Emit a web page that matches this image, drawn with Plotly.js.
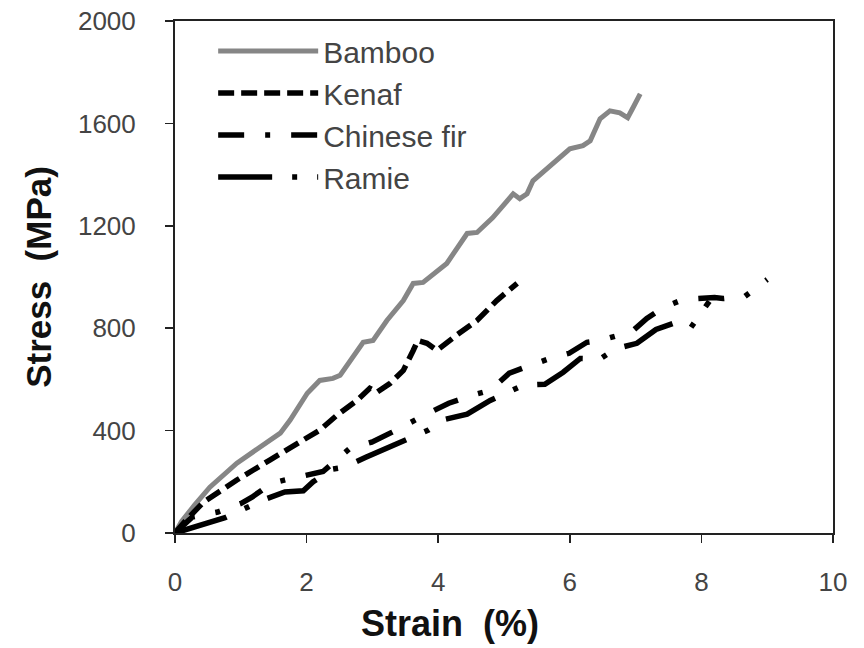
<!DOCTYPE html>
<html>
<head>
<meta charset="utf-8">
<script src="https://cdn.plot.ly/plotly-3.0.1.min.js"></script>
<style>html,body{margin:0;padding:0;background:#fff;}#chart{width:864px;height:648px;}</style>
</head>
<body>
<div id="chart"></div>
<script>
// ---- data ----
const seriesNames = ["Bamboo", "Kenaf", "Chinese fir", "Ramie"];

const bambooStrain = [0, 0.1, 0.3, 0.53, 0.94, 1.4, 1.6, 1.75, 2.01, 2.2, 2.4, 2.51, 2.77, 2.86, 3.01, 3.22, 3.47, 3.62, 3.77, 4.13, 4.44, 4.59, 4.83, 5.09, 5.14, 5.24, 5.35, 5.44, 5.74, 6.0, 6.2, 6.31, 6.46, 6.61, 6.76, 6.88, 6.96, 7.07];
const bambooStress = [0, 45, 110, 179, 273, 351, 390, 441, 546, 596, 604, 616, 713, 745, 752, 830, 908, 975, 979, 1053, 1170, 1174, 1232, 1310, 1325, 1306, 1325, 1376, 1442, 1501, 1513, 1532, 1618, 1649, 1641, 1622, 1661, 1715];

const kenafStrain = [0, 0.15, 0.43, 0.94, 1.44, 1.85, 2.2, 2.46, 2.77, 2.96, 3.07, 3.27, 3.47, 3.62, 3.69, 3.83, 3.98, 4.29, 4.59, 4.89, 5.2];
const kenafStress = [0, 45, 120, 207, 285, 351, 402, 460, 519, 565, 550, 585, 635, 713, 752, 741, 713, 775, 830, 908, 975];

const firStrain = [0, 0.26, 0.65, 1.0, 1.17, 1.47, 1.8, 2.25, 2.66, 2.99, 3.3, 3.57, 3.85, 4.16, 4.51, 4.79, 5.08, 5.4, 5.7, 5.99, 6.26, 6.46, 6.95, 7.17, 7.42, 7.72, 8.02, 8.2, 8.33, 8.66, 9.0];
const firStress = [0, 62, 82, 115, 140, 195, 215, 240, 331, 355, 394, 433, 468, 507, 538, 557, 624, 655, 682, 702, 745, 752, 788, 838, 881, 912, 916, 920, 916, 924, 990];

const ramieStrain = [0, 0.3, 0.76, 1.34, 1.67, 1.95, 2.1, 2.4, 2.57, 2.9, 3.22, 3.85, 4.1, 4.44, 4.79, 5.29, 5.62, 5.9, 6.16, 6.46, 6.7, 7.02, 7.31, 7.57, 7.83, 8.05, 8.12];
const ramieStress = [0, 25, 60, 129, 160, 165, 200, 250, 257, 296, 331, 402, 444, 464, 518, 577, 581, 628, 682, 680, 720, 741, 795, 819, 799, 877, 905];

const xTicks = [0, 2, 4, 6, 8, 10];
const yTicks = [0, 400, 800, 1200, 1600, 2000];
const xTitle = "Strain  (%)";
const yTitle = "Stress  (MPa)";

// ---- traces ----
const FONT = "Arial, 'Liberation Sans', sans-serif";
const traces = [
  {x: bambooStrain, y: bambooStress, name: seriesNames[0], mode: "lines",
   line: {color: "#868686", width: 5}, legendgroup: "a"},
  {x: kenafStrain, y: kenafStress, name: seriesNames[1], mode: "lines",
   line: {color: "#000", width: 5.5, dash: "16px,7px"}, legendgroup: "b"},
  {x: firStrain, y: firStress, name: seriesNames[2], mode: "lines",
   line: {color: "#000", width: 5.5, dash: "26px,21px,5px,21px"}, legendgroup: "c"},
  {x: ramieStrain, y: ramieStress, name: seriesNames[3], mode: "lines",
   line: {color: "#000", width: 5.5, dash: "54px,20px,5px,20px"}, legendgroup: "d"}
];

const axisCommon = {
  showgrid: false, zeroline: false, showline: true, mirror: true,
  linecolor: "#222", linewidth: 2, ticks: "outside", ticklen: 8,
  tickwidth: 1.5, tickcolor: "#222",
  tickfont: {family: FONT, size: 26, color: "#444"}
};

const layout = {
  width: 864, height: 648,
  margin: {l: 175, r: 31, t: 21, b: 115},
  paper_bgcolor: "#fff", plot_bgcolor: "#fff",
  xaxis: Object.assign({}, axisCommon, {
    range: [0, 10], tickvals: xTicks, ticktext: xTicks.map(String),
    ticklabelstandoff: 17
  }),
  yaxis: Object.assign({}, axisCommon, {
    range: [0, 2000], tickvals: yTicks, ticktext: yTicks.map(String),
    ticklabelstandoff: 24,
    title: {text: yTitle, font: {family: FONT, size: 35, color: "#111", weight: "bold"}, standoff: 16}
  }),
  annotations: [{
    text: "<b>" + xTitle + "</b>", xref: "paper", yref: "paper",
    x: 0.418, y: -0.176, xanchor: "center", yanchor: "middle", showarrow: false,
    font: {family: FONT, size: 36, color: "#111"}
  }],
  showlegend: true,
  legend: {
    x: 0.058, y: 0.992, xanchor: "left", yanchor: "top",
    bgcolor: "rgba(0,0,0,0)", borderwidth: 0,
    font: {family: FONT, size: 30, color: "#444"},
    itemwidth: 100, tracegroupgap: 4, traceorder: "normal"
  }
};

Plotly.newPlot("chart", traces, layout, {displayModeBar: false, staticPlot: true});
</script>
</body>
</html>
